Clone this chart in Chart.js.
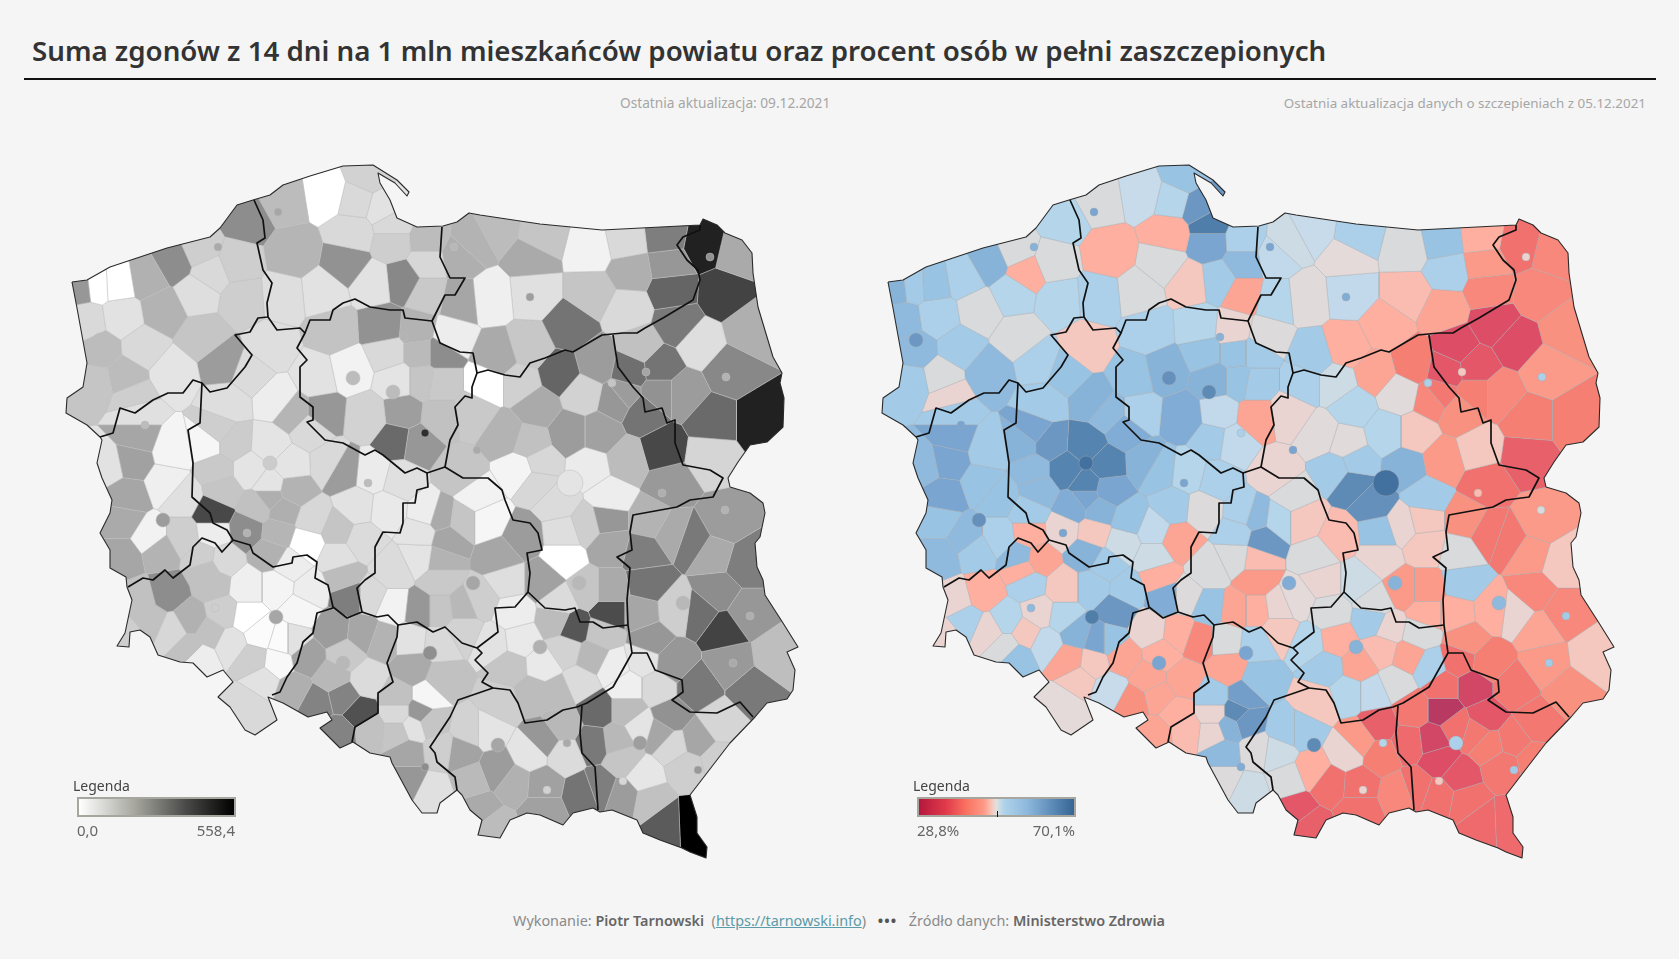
<!DOCTYPE html>
<html lang="pl">
<head>
<meta charset="utf-8">
<title>Zgony i szczepienia w powiatach</title>
<script src="https://cdn.jsdelivr.net/npm/chart.js"></script>
<style>
html, body { margin: 0; padding: 0; background: #f5f5f5; width: 1679px; height: 959px; overflow: hidden; font-family: "Noto Sans", sans-serif; }
.abs { position: absolute; white-space: nowrap; }
#title { left: 32px; top: 32px; font-size: 27.7px; font-weight: 600; color: #333; line-height: 36px; }
#rule { left: 24px; top: 78px; width: 1632px; height: 2px; background: #111; }
.sub { top: 94px; font-size: 13.7px; color: #a6a6a6; line-height: 18px; }
.map { position: absolute; top: 160px; width: 740px; height: 705px; }
.legendTitle { top: 777px; font-size: 14px; color: #444; line-height: 18px; }
.bar { top: 797px; width: 155px; height: 16px; border: 2px solid #a6a69e; }
.barLabel { top: 821px; font-size: 15px; color: #666; line-height: 18px; }
#tick { left: 997px; top: 811px; width: 1px; height: 6px; background: #111; }
#footer { left: 513px; top: 911px; font-size: 14.4px; color: #8a8a8a; line-height: 20px; }
#footer b { color: #666; font-weight: 600; }
#footer a { color: #5b9aa8; text-decoration: underline; }
#footer .dots { color: #555; font-weight: 700; margin: 0 8px; letter-spacing: 1px; }
</style>
</head>
<body>
<div id="title" class="abs">Suma zgonów z 14 dni na 1 mln mieszkańców powiatu oraz procent osób w pełni zaszczepionych</div>
<div id="rule" class="abs"></div>
<div class="abs sub" style="left:620px">Ostatnia aktualizacja: 09.12.2021</div>
<div class="abs sub" style="right:33px;font-size:13.4px">Ostatnia aktualizacja danych o szczepieniach z 05.12.2021</div>

<div class="map" style="left:60px"><canvas id="deathsMap"></canvas></div>
<div class="map" style="left:876px"><canvas id="vaccineMap"></canvas></div>

<div class="abs legendTitle" style="left:73px">Legenda</div>
<div class="abs bar" style="left:77px;background:linear-gradient(90deg,#fff 0%,#a9a9a2 35%,#4c4c4a 68%,#000 100%)"></div>
<div class="abs barLabel" style="left:77px">0,0</div>
<div class="abs barLabel" style="right:1444px">558,4</div>

<div class="abs legendTitle" style="left:913px">Legenda</div>
<div class="abs bar" style="left:917px;background:linear-gradient(90deg,#b5183d 0%,#e0394a 17%,#f9705f 30%,#fd9a87 42%,#f7c7ba 47%,#dfe0e0 50%,#aed2ea 55%,#8db8dc 70%,#5f8eba 85%,#366494 100%)"></div>
<div id="tick" class="abs"></div>
<div class="abs barLabel" style="left:917px">28,8%</div>
<div class="abs barLabel" style="right:604px">70,1%</div>

<div id="footer" class="abs">Wykonanie: <b>Piotr Tarnowski</b>&nbsp; (<a>https://tarnowski.info</a>) <span class="dots">•••</span> Źródło danych: <b>Ministerstwo Zdrowia</b></div>

<script>
// Powiaty per voivodeship: [mapX, mapY, deaths per 1 mln, % vaccinated]
const zachodniopomorskie = [[80,285,230,58],[97,283,0,55],[117,282,0,56],[147,277,175,54],[173,262,250,58],[210,273,85,45],[200,250,110,50],[237,262,110,50],[247,220,250,53],[122,317,65,54],[87,322,85,57],[163,310,170,50],[197,293,75,53],[203,337,130,50],[243,300,110,53],[95,383,130,55],[125,377,150,50],[143,347,85,55],[133,397,110,48],[173,373,60,57],[223,363,220,54],[100,350,150,57]];
const pomorskie = [[283,200,150,50],[293,253,165,45],[327,193,0,51.5],[357,200,85,53],[367,177,100,56],[383,207,65,62],[393,225,85,66],[353,233,85,45],[393,242,110,60],[347,263,240,50],[283,297,75,54],[323,293,65,50],[373,283,65,47],[403,280,260,55],[427,263,90,57],[427,293,120,44],[427,240,150,54]];
const wielkopolskie = [[270,347,75,47],[250,373,80,56],[227,403,75,55],[277,400,40,58],[293,413,165,57],[217,430,110,60],[233,443,115,62],[250,470,60,65],[290,465,60,65],[270,485,60,65],[270,445,60,65],[310,430,85,59],[330,463,85,58],[207,443,20,58],[217,470,120,57],[223,490,130,57],[293,490,170,60],[270,497,180,60],[342,470,220,56],[373,473,45,53],[400,480,70,54],[213,513,390,55],[247,530,250,48],[213,533,40,45],[277,533,165,47],[270,553,175,58],[307,543,0,51],[337,557,70,51],[283,510,180,58],[337,530,130,52],[257,507,140,59],[313,520,90,56],[357,507,65,55],[362,540,80,44],[343,577,150,45],[350,597,280,59]];
const kujawskoPomorskie = [[333,330,135,54],[383,327,240,53],[350,370,30,58],[317,377,65,56],[323,413,230,54],[367,417,100,59],[397,380,60,58],[388,353,85,56],[417,330,170,48],[420,353,155,56],[440,353,250,55],[423,380,130,56],[440,383,120,55],[403,413,215,52],[417,443,230,52],[397,440,320,55],[440,417,140,44]];
const warminskoMazurskie = [[473,243,170,51],[497,230,150,51.5],[540,237,130,54],[530,257,190,48.5],[460,257,180,52],[460,300,200,53],[450,337,40,49.5],[497,357,190,55],[490,297,35,49],[533,293,70,52],[592,250,30,50],[625,243,85,56],[667,238,280,45],[670,263,230,43],[630,270,180,54],[593,293,130,46],[570,327,300,45],[627,310,85,44],[673,290,330,41],[530,347,125,45]];
const podlaskie = [[703,245,480,38],[737,253,190,41],[723,293,400,41],[678,323,290,34],[700,343,75,34],[640,347,140,34],[630,370,310,35],[660,367,300,35],[730,370,260,43],[750,330,180,42],[713,420,320,40],[683,393,220,41],[660,393,240,40],[760,420,480,40],[710,457,95,36]];
const mazowieckie = [[560,373,330,44],[597,363,220,40],[520,383,105,51],[537,407,190,53],[487,383,0,54],[623,395,220,39],[583,393,100,49],[617,400,230,41],[473,413,120,48],[530,443,140,49],[540,463,90,55],[570,433,220,53],[600,433,210,47],[627,460,150,43],[643,413,300,42],[662,450,390,47],[590,467,45,58],[537,483,90,64],[557,503,80,63],[610,497,40,55],[670,483,225,38],[563,533,75,56],[607,520,230,47],[610,545,200,47],[587,525,110,48],[563,557,0,48],[543,580,210,51],[587,590,130,43],[560,603,80,50],[610,590,190,43],[610,613,380,45],[520,470,25,55],[505,435,170,49]];
const lodzkie = [[460,473,130,48],[477,497,30,50],[487,520,20,47],[463,520,130,53],[440,517,190,57],[523,537,220,46],[500,557,200,50],[507,580,75,48],[480,600,110,48.5],[463,607,160,48],[440,580,120,43],[447,540,200,62],[421,533,60,54],[427,513,40,54],[420,557,60,50],[440,560,170,46],[393,570,80,50],[420,610,230,44],[393,607,30,56],[370,597,85,49.5],[387,510,50,49.5],[440,610,130,45],[463,630,100,47]];
const lubuskie = [[132,460,210,60],[137,437,200,60],[173,450,25,55],[137,413,70,55],[167,483,35,56],[127,497,200,60],[183,497,70,56],[123,520,190,56],[150,537,30,57],[123,557,200,57],[160,550,170,55],[183,537,110,54],[108,465,65,57]];
const dolnoslaskie = [[167,593,250,45],[140,600,140,48],[150,620,140,54],[173,630,90,48],[190,620,175,53],[207,570,140,45],[213,583,140,54],[203,557,110,57],[223,560,85,44],[247,587,35,47],[277,587,25,55],[247,617,0,53],[283,640,10,60],[310,590,40,55],[290,565,40,55],[223,613,110,48],[210,633,140,47],[190,647,140,50],[230,643,65,52],[200,657,40,56],[253,660,110,44],[260,633,10,58],[277,663,15,47],[293,640,65,56],[263,680,65,47],[247,705,85,48.5],[130,637,110,48],[300,610,20,62]];
const opolskie = [[333,630,220,48],[363,633,200,45],[383,640,170,41],[307,657,210,44],[333,677,160,44],[367,680,80,44],[293,690,180,51.5],[343,697,270,44],[317,703,270,42],[360,713,370,45],[340,733,270,44],[345,655,120,45]];
const slaskie = [[410,640,65,50],[412,668,190,44],[440,643,85,54],[443,680,140,56],[397,697,140,55],[427,697,20,61],[397,713,85,48],[420,712,230,64],[370,730,140,46],[397,733,130,48],[413,727,65,58],[430,722,130,62],[407,753,200,57],[407,780,230,49.5],[433,793,70,51]];
const malopolskie = [[440,750,110,49.5],[461,753,205,51],[471,780,155,50],[497,770,220,45],[514,783,175,38],[480,810,190,35],[493,827,150,36],[487,730,60,55],[500,703,110,47],[470,730,100,55],[530,753,60,48],[543,740,230,43],[563,725,160,36],[565,755,80,40],[543,785,210,38],[583,793,300,41],[543,810,210,38]];
const swietokrzyskie = [[513,613,40,50],[557,620,150,55],[573,627,360,48],[603,633,130,50],[543,665,50,44],[520,640,50,45],[593,657,160,44],[613,667,40,54],[580,683,80,50],[557,693,150,52],[533,693,150,53],[510,667,130,55],[493,643,65,53],[565,650,100,46]];
const lubelskie = [[643,553,280,50],[647,583,300,55],[640,613,200,45],[650,640,230,42],[673,663,230,40],[677,610,110,45],[700,613,310,48],[723,630,400,44],[673,533,190,39],[693,540,290,39],[713,553,190,43],[723,523,220,43],[747,563,280,47],[747,613,230,41],[717,593,250,41],[730,663,225,43],[697,687,290,39],[777,657,145,47],[753,690,290,42],[650,520,170,42]];
const podkarpackie = [[627,687,35,38],[643,660,60,38],[657,687,85,33],[597,710,320,39],[627,710,150,31],[670,717,240,35],[720,723,95,39],[593,743,290,37],[617,740,160,33],[640,727,60,38],[660,733,200,39],[673,745,90,40],[697,740,200,39],[687,767,110,39],[717,760,110,40],[623,760,130,34],[600,787,280,38],[623,795,220,38],[643,777,55,35],[650,800,140,38],[667,823,350,37],[692,822,558,37]];

// Cities inside their powiat: [mapX, mapY, deaths, % vaccinated]
const smallCities = [[218,247,190,58],[278,212,200,60],[145,425,150,60],[368,483,150,60],[404,337,170,58],[425,433,450,54],[454,247,160,60],[530,297,215,59],[710,257,240,48],[726,377,170,54],[646,372,200,47],[612,383,130,54],[662,493,180,46],[750,616,180,55],[733,663,190,55],[725,510,170,50],[623,781,90,47],[698,770,225,55],[567,743,190,53],[547,790,100,48],[215,608,110,57],[247,533,170,60],[425,767,250,59],[477,450,190,60]];
const bigCities = [[100,340,150,62],[270,463,115,68],[353,378,150,63],[393,392,150,64],[473,583,200,59],[579,583,160,58],[540,647,175,58],[683,603,160,57],[640,743,215,54],[276,617,200,66],[430,653,245,60],[343,663,160,60],[163,520,220,63],[498,745,200,64],[570,483,60,68]];

// Country outline, in map units
const polandOutline = [[72,282],[87,280],[110,267],[137,258],[167,248],[210,237],[220,228],[237,205],[253,200],[270,195],[283,185],[310,176],[343,166],[373,165],[397,180],[409,192],[407,196],[395,183],[378,173],[380,183],[390,200],[397,218],[417,227],[443,226],[457,222],[469,213],[480,215],[540,224],[602,230],[700,225],[703,219],[717,225],[725,233],[742,240],[752,253],[753,273],[758,307],[773,357],[782,373],[780,383],[784,398],[783,427],[767,442],[750,445],[738,462],[728,478],[730,487],[750,493],[763,503],[765,513],[760,537],[755,543],[757,567],[763,580],[765,595],[783,623],[798,647],[787,652],[795,670],[793,690],[787,699],[767,703],[755,717],[730,743],[690,795],[697,817],[697,833],[707,847],[706,858],[690,852],[682,848],[660,840],[643,833],[637,820],[612,810],[600,812],[593,808],[573,813],[563,825],[540,815],[527,813],[510,820],[500,838],[478,835],[482,820],[470,810],[462,795],[457,790],[440,803],[437,813],[422,813],[412,800],[392,763],[390,757],[370,753],[353,742],[340,748],[320,728],[332,720],[327,712],[308,717],[283,703],[268,697],[277,720],[255,735],[245,730],[230,707],[218,697],[233,682],[223,670],[207,677],[193,663],[180,662],[158,655],[150,637],[140,630],[130,632],[129,647],[117,646],[125,633],[132,600],[127,587],[126,577],[110,568],[110,550],[100,533],[110,513],[112,500],[102,478],[97,463],[102,440],[100,437],[87,425],[66,413],[67,398],[83,387],[87,363],[77,308],[72,282]];

// Voivodeship borders, in map units
const borderZachPom = [[254,200],[263,220],[265,238],[257,243],[263,270],[272,283],[267,303],[268,317],[258,318],[250,332],[235,335],[252,355],[245,367],[227,388],[210,392],[202,383],[193,380],[183,393],[168,393],[153,400],[135,413],[120,408],[113,433],[100,437]];
const borderPomWm = [[268,317],[277,330],[300,328],[305,333],[310,320],[330,320],[333,310],[343,303],[355,299],[370,307],[390,310],[403,310],[405,318],[432,321],[445,295],[455,295],[465,278],[450,278],[440,257],[442,227]];
const borderWmSouth = [[432,321],[440,343],[460,352],[473,353],[477,373],[488,370],[505,375],[520,377],[530,363],[545,358],[565,350],[573,352],[590,342],[602,335],[623,333],[637,333],[645,328],[663,318],[693,300],[700,280],[698,270],[687,260],[677,245],[683,237],[700,230],[700,225]];
const borderMazPodl = [[613,335],[618,367],[633,387],[643,398],[645,412],[662,408],[667,423],[675,420],[675,443],[683,465],[710,470],[723,478],[713,497],[690,500],[677,507],[633,515],[630,532],[632,550],[617,557],[630,568],[627,600],[628,625],[632,653]];
const borderKujMaz = [[477,373],[472,387],[472,398],[465,396],[455,407],[458,425],[450,440],[445,467],[463,478],[488,478],[502,490],[505,500],[513,520],[530,523],[538,533],[542,550],[527,553],[530,573],[528,592],[545,608],[565,610],[575,608],[580,622],[593,622],[603,628],[628,625]];
const borderSwLodz = [[528,592],[515,607],[495,608],[498,632],[477,648]];
const borderKujWlkp = [[305,333],[297,348],[307,360],[300,367],[300,397],[313,407],[313,420],[307,422],[325,440],[343,443],[365,455],[375,450],[383,455],[405,473],[417,468],[427,473],[445,467]];
const borderWlkpLodz = [[427,473],[428,487],[417,490],[415,503],[403,503],[403,523],[400,533],[383,532],[375,547],[375,573],[365,580],[357,588],[362,612]];
const borderLodzSlask = [[362,612],[377,617],[388,615],[398,625],[417,622],[433,632],[445,627],[462,643],[477,648],[482,653],[475,660],[488,673],[482,682],[493,688]];
const borderLubWlkp = [[202,383],[200,423],[188,430],[193,463],[192,497],[210,513],[213,523],[227,530],[233,540]];
const borderLubDoln = [[233,540],[222,552],[215,543],[202,538],[193,547],[190,565],[173,578],[165,570],[153,580],[143,578],[128,587]];
const borderWlkpDoln = [[233,540],[250,545],[253,553],[273,567],[292,563],[293,557],[307,555],[317,562],[315,578],[328,585],[333,607],[347,618],[362,612]];
const borderDolnOpol = [[333,608],[317,613],[313,633],[303,642],[297,663],[287,677],[280,692],[272,695]];
const borderOpolSlask = [[398,625],[397,637],[387,663],[393,682],[378,693],[378,713],[355,727],[352,742]];
const borderSlaskMalop = [[493,688],[458,700],[450,717],[430,747],[435,753],[437,762],[455,777],[457,790]];
const borderMalopSw = [[493,688],[510,690],[518,703],[525,723],[547,720],[563,710],[577,707],[587,703],[613,687],[632,653]];
const borderMalopPodk = [[582,706],[580,733],[582,753],[595,767],[598,810]];
const borderLubelPodk = [[632,653],[647,653],[655,670],[682,680],[683,692],[672,700],[690,712],[717,713],[740,702],[753,717]];

const voivodeshipBorders = [borderZachPom, borderPomWm, borderWmSouth, borderMazPodl, borderKujMaz, borderSwLodz, borderKujWlkp, borderWlkpLodz, borderLodzSlask, borderLubWlkp, borderLubDoln, borderWlkpDoln, borderDolnOpol, borderOpolSlask, borderSlaskMalop, borderMalopSw, borderMalopPodk, borderLubelPodk];
const powiaty = [].concat(zachodniopomorskie, pomorskie, wielkopolskie, kujawskoPomorskie, warminskoMazurskie, podlaskie, mazowieckie, lodzkie, lubuskie, dolnoslaskie, opolskie, slaskie, malopolskie, swietokrzyskie, lubelskie, podkarpackie);

// Colour stops for the two legends: [value, r, g, b]
const deathStops = [[0,255,255,255],[195,168,168,168],[380,76,76,76],[558.4,0,0,0]];
const vaccineStops = [[28.8,181,24,61],[31,184,58,98],[34,221,77,102],[37,238,106,108],[40,246,127,116],[43,251,154,136],[45,255,175,160],[47,245,200,191],[48.5,229,218,218],[50,216,218,220],[51.5,200,219,234],[53,180,213,234],[55,163,203,231],[57,143,186,222],[60,122,165,208],[63,101,144,188],[66,79,126,170],[70.1,54,100,148]];

function colourFor(stops, v) {
    for (let i = 1; i < stops.length; i++) {
        if (v <= stops[i][0]) {
            const a = stops[i - 1], b = stops[i];
            const t = (v - a[0]) / (b[0] - a[0]);
            const c = [1, 2, 3].map(k => Math.round(a[k] + (b[k] - a[k]) * Math.max(t, 0)));
            return `rgb(${c[0]},${c[1]},${c[2]})`;
        }
    }
    const l = stops[stops.length - 1];
    return `rgb(${l[1]},${l[2]},${l[3]})`;
}

// Area of the map nearest to one powiat: cut the frame by each neighbour's bisector
function cellFor(p) {
    let poly = [[40,140],[820,140],[820,880],[40,880]];
    for (const q of powiaty) {
        if (q === p || (q[0] === p[0] && q[1] === p[1])) continue;
        const mx = (p[0] + q[0]) / 2, my = (p[1] + q[1]) / 2;
        const nx = q[0] - p[0], ny = q[1] - p[1];
        const side = pt => (pt[0] - mx) * nx + (pt[1] - my) * ny;
        const out = [];
        for (let i = 0; i < poly.length; i++) {
            const a = poly[i], b = poly[(i + 1) % poly.length];
            const sa = side(a), sb = side(b);
            if (sa <= 0) out.push(a);
            if ((sa < 0 && sb > 0) || (sa > 0 && sb < 0)) {
                const t = sa / (sa - sb);
                out.push([a[0] + (b[0] - a[0]) * t, a[1] + (b[1] - a[1]) * t]);
            }
        }
        poly = out;
        if (poly.length < 3) break;
    }
    return poly;
}
const cells = powiaty.map(cellFor);

const toPoints = line => line.map(p => ({x: p[0], y: p[1]}));

// Everything from the cities down is clipped to the country shape
const countryClip = {
    id: 'countryClip',
    beforeDatasetsDraw(chart) {
        const ctx = chart.ctx, xs = chart.scales.x, ys = chart.scales.y;
        ctx.save();
        ctx.beginPath();
        polandOutline.forEach((p, i) => {
            const px = xs.getPixelForValue(p[0]), py = ys.getPixelForValue(p[1]);
            if (i === 0) ctx.moveTo(px, py); else ctx.lineTo(px, py);
        });
        ctx.closePath();
        ctx.clip();
    },
    afterDatasetDraw(chart, args) {
        if (args.index === voivodeshipBorders.length + 1) chart.ctx.restore();
    }
};

function drawMap(canvasId, stops, col, cellBorder) {
    const datasets = [];
    voivodeshipBorders.forEach(line => datasets.push({
        data: toPoints(line), showLine: true, pointRadius: 0, fill: false,
        borderColor: '#111', borderWidth: 1.7, borderJoinStyle: 'round', clip: false
    }));
    datasets.push({
        data: toPoints(polandOutline), showLine: true, pointRadius: 0, fill: false,
        borderColor: '#2a2a2a', borderWidth: 1.1, borderJoinStyle: 'round', clip: false
    });
    const cities = smallCities.concat(bigCities);
    datasets.push({
        data: toPoints(cities), showLine: false,
        pointRadius: cities.map((c, i) => i < smallCities.length ? 4 : (i === cities.length - 1 ? 13 : 7)),
        pointBackgroundColor: cities.map(c => colourFor(stops, c[col])),
        pointBorderColor: cellBorder, pointBorderWidth: 1
    });
    powiaty.forEach((p, i) => {
        if (cells[i].length < 3) return;
        const ring = cells[i].concat([cells[i][0]]);
        datasets.push({
            data: toPoints(ring), showLine: true, pointRadius: 0, fill: 'shape',
            backgroundColor: colourFor(stops, p[col]),
            borderColor: cellBorder, borderWidth: 1
        });
    });
    return new Chart(document.getElementById(canvasId), {
        type: 'scatter',
        data: { datasets },
        plugins: [countryClip],
        options: {
            responsive: true,
            maintainAspectRatio: false,
            animation: false,
            events: [],
            layout: { padding: 0, autoPadding: false },
            plugins: { legend: { display: false }, tooltip: { enabled: false } },
            scales: {
                x: { type: 'linear', display: false, min: 60, max: 800 },
                y: { type: 'linear', display: false, min: 160, max: 865, reverse: true }
            }
        }
    });
}

drawMap('deathsMap', deathStops, 2, 'rgba(190,190,190,0.5)');
drawMap('vaccineMap', vaccineStops, 3, 'rgba(165,170,175,0.4)');
</script>
</body>
</html>
